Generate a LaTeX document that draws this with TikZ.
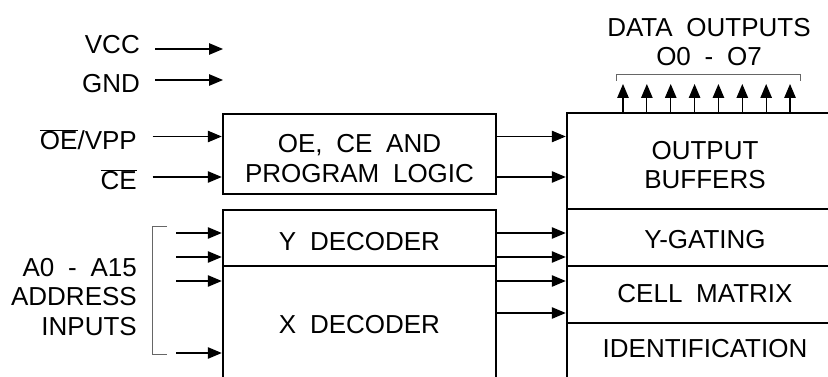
\documentclass[tikz,border=0pt]{standalone}
\usepackage{fontspec}
\setmainfont[WordSpace=1.9]{Liberation Sans}
\usetikzlibrary{arrows.meta}
\begin{document}
\begin{tikzpicture}
[x=1pt,y=-1pt,
  font=\fontsize{26}{29.5}\selectfont,
  blockdecorate/.style={shape=rectangle,draw,line width=2.5pt,inner sep=0pt,align=center},
  linedecorate/.style={-{Triangle[length=14pt,width=11.5pt]},line width=1.2pt},
  bracketdecorate/.style={-,line width=1pt,black!60},
  labeldecorate/.style={inner sep=0pt,align=right,anchor=east}]
\useasboundingbox (0,0) rectangle (828,377);
\clip (0,0) rectangle (828,377);
%% blocks
\node (logic) at (359.5,154) [blockdecorate,minimum width=273,minimum height=80,text height=57pt] {OE, CE AND\\PROGRAM LOGIC};
\node (ydec) at (359.5,238) [blockdecorate,minimum width=273,minimum height=56,text height=24.6pt] {Y DECODER};
\node (xdec) at (359.5,323) [blockdecorate,minimum width=273,minimum height=114,text height=21.6pt] {X DECODER};
\node (outbuf) at (705,161) [blockdecorate,minimum width=276,minimum height=96,text height=55.5pt] {OUTPUT\\BUFFERS};
\node (ygate) at (705,237.5) [blockdecorate,minimum width=276,minimum height=57,text height=22pt] {Y-GATING};
\node (cellm) at (705,294.5) [blockdecorate,minimum width=276,minimum height=57,text depth=2.4pt] {CELL MATRIX};
\node (ident) at (705,352) [blockdecorate,minimum width=276,minimum height=58,text depth=8pt] {IDENTIFICATION};
%% supply inputs
\foreach \name/\txt/\ty/\ay in {vcc/VCC/44.5/49, gnd/GND/83.5/80} {
  \node (\name) at (140,\ty) [labeldecorate] {\txt};
  \coordinate (\name end) at (223,\ay);
  \draw[linedecorate] (\name end -| 155,0) -- (\name end);
}
%% control inputs
\node (oe) at (137,139.5) [labeldecorate] {$\overline{\mbox{OE}}$/VPP};
\node (ce) at (137,180) [labeldecorate] {$\overline{\mbox{CE}}$};
\foreach \name/\y in {oe/136.5, ce/177} {
  \draw[linedecorate] (152.5,\y) -- (logic.west |- 0,\y);
  \draw[linedecorate] (logic.east |- 0,\y) -- (outbuf.west |- 0,\y);
}
%% address inputs
\node (addr) at (137,297) [labeldecorate] {A0 - A15\\ADDRESS\\INPUTS};
\draw[bracketdecorate] (167,227) -| (152,354) -- (167,354);
\foreach \y/\from in {233/ydec, 257/ydec, 281/xdec, 353/xdec} {
  \coordinate (a\y) at (176,\y);
  \draw[linedecorate] (a\y) -- (\from.west |- a\y);
}
%% decoder outputs
\foreach \y/\from/\to in {233/ydec/ygate, 257/ydec/ygate, 281/xdec/cellm, 313/xdec/cellm} {
  \draw[linedecorate] (\from.east |- 0,\y) -- (\to.west |- 0,\y);
}
%% data outputs
\node (data) at (709,42) [inner sep=0pt,align=center] {DATA OUTPUTS\\O0 - O7};
\draw[bracketdecorate] (616,81) |- (800,75) -- (800,81);
\foreach \i in {0,...,7} {
  \coordinate (o\i) at (623+23.86*\i,84);
  \draw[linedecorate] (outbuf.north -| o\i) -- (o\i);
}
\end{tikzpicture}
\end{document}
